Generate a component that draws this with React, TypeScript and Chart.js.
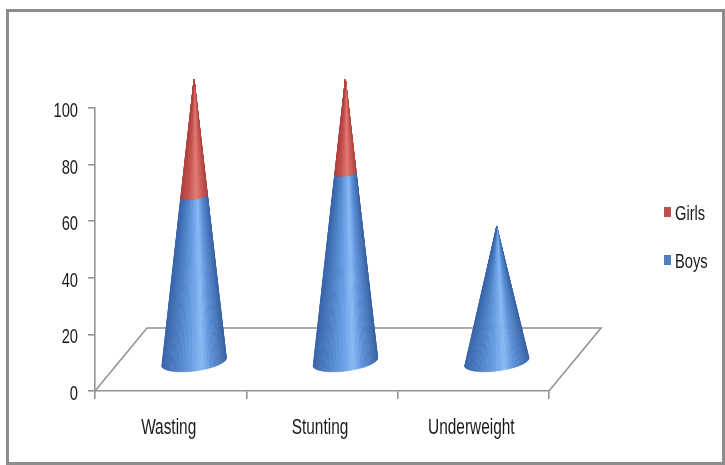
import React, { useEffect, useRef } from "react";
import { Chart, registerables } from "chart.js";

Chart.register(...registerables);

const categories = ["Wasting", "Stunting", "Underweight"];
const boysValues = [59, 67, 48];
const girlsValues = [41, 33, 0];
const seriesLabels = ["Boys", "Girls"];
const yTicks = [0, 20, 40, 60, 80, 100];

const FONT = "'Liberation Sans', Arial, sans-serif";
const TEXT_SCALE_X = 0.7;
const AXIS_COLOR = "#939393";
const TEXT_COLOR = "#1a1a1a";

const DEPTH_DX = 52;
const DEPTH_DY = -63;
const DEPTH_FRACTION = 0.45;
const ELLIPSE_RATIO = 0.28;
const TILT = -0.13;

const shades: Record<string, [number, string][]> = {
  Boys: [
    [0, "#3a66aa"],
    [0.22, "#4b7fc6"],
    [0.45, "#6a9fe4"],
    [0.6, "#88b8f4"],
    [0.75, "#5a8fd8"],
    [1, "#3862a2"],
  ],
  Girls: [
    [0, "#b2423f"],
    [0.25, "#c4524f"],
    [0.55, "#e27a75"],
    [0.75, "#cf5e5a"],
    [1, "#ad403d"],
  ],
};

const baseColors: Record<string, string> = { Boys: "#4f81bd", Girls: "#c0504d" };

function hexToRgb(h: string) {
  const n = parseInt(h.slice(1), 16);
  return [(n >> 16) & 255, (n >> 8) & 255, n & 255];
}

function shadeAt(stops: [number, string][], s: number) {
  for (let i = 0; i < stops.length - 1; i++) {
    const [a, ca] = stops[i];
    const [b, cb] = stops[i + 1];
    if (s >= a && s <= b) {
      const t = (s - a) / (b - a || 1);
      const A = hexToRgb(ca);
      const B = hexToRgb(cb);
      const c = A.map((v, k) => Math.round(v + (B[k] - v) * t));
      return `rgb(${c[0]},${c[1]},${c[2]})`;
    }
  }
  return stops[stops.length - 1][1];
}

function ellPoint(cx: number, cy: number, r: number, theta: number) {
  const ex = r * Math.cos(theta);
  const ey = r * ELLIPSE_RATIO * Math.sin(theta);
  return [
    cx + ex * Math.cos(TILT) - ey * Math.sin(TILT),
    cy + ex * Math.sin(TILT) + ey * Math.cos(TILT),
  ];
}

function narrowText(ctx: any, text: string, x: number, y: number, size: number, align: string) {
  ctx.save();
  ctx.font = `${size}px ${FONT}`;
  ctx.fillStyle = TEXT_COLOR;
  ctx.textBaseline = "alphabetic";
  ctx.textAlign = align;
  ctx.translate(x, y);
  ctx.scale(TEXT_SCALE_X, 1);
  ctx.fillText(text, 0, 0);
  ctx.restore();
}

const conePlugin = {
  id: "cones",
  beforeDatasetsDraw(chart: any) {
    const { ctx, chartArea } = chart;
    const { left, right, bottom } = chartArea;
    ctx.save();
    ctx.strokeStyle = AXIS_COLOR;
    ctx.lineWidth = 1.6;
    ctx.beginPath();
    ctx.moveTo(left, bottom);
    ctx.lineTo(left + DEPTH_DX, bottom + DEPTH_DY);
    ctx.lineTo(right + DEPTH_DX, bottom + DEPTH_DY);
    ctx.lineTo(right, bottom);
    ctx.stroke();
    ctx.restore();
  },
  beforeDatasetDraw() {
    return false;
  },
  afterDatasetsDraw(chart: any) {
    const { ctx } = chart;
    const yScale = chart.scales.y;
    const y0 = yScale.getPixelForValue(0);
    const n = chart.data.labels.length;
    const N = 64;
    for (let i = 0; i < n; i++) {
      let topPx = y0;
      chart.data.datasets.forEach((ds: any, di: number) => {
        const el = chart.getDatasetMeta(di).data[i];
        if (ds.data[i] > 0) topPx = Math.min(topPx, el.y);
      });
      const el0 = chart.getDatasetMeta(0).data[i];
      const H = y0 - topPx;
      const R = el0.width / 2;
      const cxBase = el0.x + DEPTH_DX * DEPTH_FRACTION;
      const cyBase = y0 + DEPTH_DY * DEPTH_FRACTION;
      chart.data.datasets.forEach((ds: any, di: number) => {
        if (!(ds.data[i] > 0)) return;
        const el = chart.getDatasetMeta(di).data[i];
        const h0 = y0 - el.base;
        const h1 = y0 - el.y;
        const r0 = R * (1 - h0 / H);
        const r1 = Math.max(0, R * (1 - h1 / H));
        const stops = shades[ds.label];
        ctx.save();
        for (let k = 0; k < N; k++) {
          const t0 = (Math.PI * k) / N;
          const t1 = (Math.PI * (k + 1)) / N;
          const tm = (t0 + t1) / 2;
          const s = (1 - Math.cos(tm)) / 2;
          const col = shadeAt(stops, 1 - s);
          const a = ellPoint(cxBase, cyBase - h0, r0, t0);
          const b = ellPoint(cxBase, cyBase - h0, r0, t1);
          const c = ellPoint(cxBase, cyBase - h1, r1, t1);
          const d = ellPoint(cxBase, cyBase - h1, r1, t0);
          ctx.beginPath();
          ctx.moveTo(a[0], a[1]);
          ctx.lineTo(b[0], b[1]);
          ctx.lineTo(c[0], c[1]);
          ctx.lineTo(d[0], d[1]);
          ctx.closePath();
          ctx.fillStyle = col;
          ctx.strokeStyle = col;
          ctx.lineWidth = 0.6;
          ctx.fill();
          ctx.stroke();
        }
        ctx.restore();
      });
    }
  },
  afterDraw(chart: any) {
    const { ctx } = chart;
    const xScale = chart.scales.x;
    const yScale = chart.scales.y;
    // y tick labels
    yScale.ticks.forEach((t: any) => {
      const y = yScale.getPixelForValue(t.value);
      narrowText(ctx, String(t.value), 69, y + 9, 21, "right");
    });
    // x category labels
    chart.data.labels.forEach((lab: string, i: number) => {
      const x = xScale.getPixelForTick(i);
      narrowText(ctx, lab, x - 2, 422, 22, "center");
    });
    // legend (reverse order, as in the original)
    const ds = chart.data.datasets.slice().reverse();
    ds.forEach((d: any, i: number) => {
      const cy = 200 + i * 48;
      ctx.save();
      ctx.fillStyle = d.backgroundColor;
      ctx.fillRect(655, cy - 5, 7, 10);
      ctx.restore();
      narrowText(ctx, d.label, 666, cy + 7.5, 21, "left");
    });
  },
};

export default function App() {
  const ref = useRef<HTMLCanvasElement>(null);
  useEffect(() => {
    if (!ref.current) return;
    const chart = new Chart(ref.current, {
      type: "bar",
      data: {
        labels: categories,
        datasets: [
          { label: seriesLabels[0], data: boysValues, backgroundColor: baseColors.Boys },
          { label: seriesLabels[1], data: girlsValues, backgroundColor: baseColors.Girls },
        ],
      },
      options: {
        responsive: false,
        animation: false,
        layout: { padding: { left: 0, top: 96, right: 173, bottom: 0 } },
        datasets: { bar: { categoryPercentage: 0.86, barPercentage: 0.5 } } as any,
        plugins: { legend: { display: false }, tooltip: { enabled: false } },
        scales: {
          x: {
            stacked: true,
            grid: {
              drawOnChartArea: false,
              drawTicks: true,
              tickLength: 8,
              color: AXIS_COLOR,
              lineWidth: 1.6,
              offset: true,
            },
            border: { display: true, color: AXIS_COLOR, width: 1.6 },
            ticks: { display: false },
            afterFit(scale: any) {
              scale.height = 71;
            },
          },
          y: {
            stacked: true,
            min: 0,
            max: 100,
            afterBuildTicks(scale: any) {
              scale.ticks = yTicks.map((v) => ({ value: v }));
            },
            grid: {
              drawOnChartArea: false,
              drawTicks: true,
              tickLength: 7,
              color: AXIS_COLOR,
              lineWidth: 1.6,
            },
            border: { display: true, color: AXIS_COLOR, width: 1.6 },
            ticks: { display: false },
            afterFit(scale: any) {
              scale.width = 86;
            },
          },
        },
      },
      plugins: [conePlugin],
    });
    return () => chart.destroy();
  }, []);
  return (
    <div
      style={{
        position: "absolute",
        left: 6,
        top: 9,
        width: 719,
        height: 456,
        border: "3px solid #8c8c8c",
        boxSizing: "border-box",
        background: "#fff",
      }}
    >
      <canvas ref={ref} width={713} height={450} style={{ display: "block" }} />
    </div>
  );
}
